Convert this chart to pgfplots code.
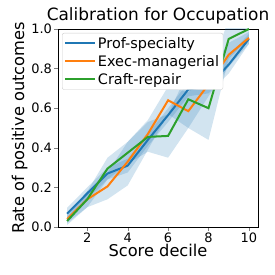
\documentclass[border=0pt]{standalone}
\usepackage{fontspec}
\setmainfont{DejaVu Sans}
\usepackage{pgfplots}
\pgfplotsset{compat=1.18}
\usepgfplotslibrary{fillbetween}
\definecolor{tblue}{HTML}{1F77B4}
\definecolor{torange}{HTML}{FF7F0E}
\definecolor{tgreen}{HTML}{2CA02C}
\begin{document}
\begin{tikzpicture}
\begin{axis}[
  scale only axis, width=200bp, height=198bp,
  xmin=0.55, xmax=10.45, ymin=0, ymax=1,
  xtick={2,4,6,8,10}, ytick={0,0.2,0.4,0.6,0.8,1.0},
  yticklabel style={/pgf/number format/fixed, /pgf/number format/fixed zerofill, /pgf/number format/precision=1, xshift=1bp},
  /pgf/number format/assume math mode=true,
  tick label style={font=\fontsize{13}{14}\selectfont},
  xticklabel style={yshift=1bp},
  tick align=outside, tick pos=left,
  major tick length=3.5bp,
  xlabel={Score decile}, ylabel={Rate of positive outcomes},
  label style={font=\fontsize{16.3}{17}\selectfont},
  title={Calibration for Occupation},
  title style={font=\fontsize{17}{18}\selectfont, yshift=-5bp},
  xlabel style={yshift=5bp}, ylabel style={yshift=-3bp},
  legend style={font=\fontsize{14.5}{16}\selectfont, draw=black!20, rounded corners=2bp, inner sep=2bp, row sep=1.5bp, at={(0.02,0.98)}, anchor=north west},
  legend cell align=left,
  legend image code/.code={\draw[#1] (0cm,0cm) -- (1.05cm,0cm);},
  clip=true,
]
% bands
\addplot[draw=none, name path=bu, forget plot] coordinates {(1,0.097)(2,0.20)(3,0.30)(4,0.345)(5,0.47)(6,0.60)(7,0.73)(8,0.745)(9,0.865)(10,0.975)};
\addplot[draw=none, name path=bl, forget plot] coordinates {(1,0.037)(2,0.14)(3,0.24)(4,0.275)(5,0.41)(6,0.53)(7,0.66)(8,0.675)(9,0.775)(10,0.925)};
\addplot[tblue, fill opacity=0.2, draw=none, forget plot] fill between[of=bu and bl];
\addplot[draw=none, name path=ou, forget plot] coordinates {(1,0.06)(2,0.18)(3,0.275)(4,0.43)(5,0.54)(6,0.71)(7,0.68)(8,0.78)(9,0.93)(10,0.985)};
\addplot[draw=none, name path=ol, forget plot] coordinates {(1,0.02)(2,0.10)(3,0.14)(4,0.21)(5,0.39)(6,0.57)(7,0.50)(8,0.66)(9,0.81)(10,0.925)};
\addplot[tblue, fill opacity=0.2, draw=none, forget plot] fill between[of=ou and ol];
\addplot[draw=none, name path=gu, forget plot] coordinates {(1,0.05)(2,0.18)(3,0.35)(4,0.43)(5,0.53)(6,0.57)(7,0.785)(8,0.76)(9,1.05)(10,1.05)};
\addplot[draw=none, name path=gl, forget plot] coordinates {(1,0.01)(2,0.10)(3,0.24)(4,0.32)(5,0.38)(6,0.35)(7,0.50)(8,0.44)(9,0.85)(10,0.95)};
\addplot[tblue, fill opacity=0.2, draw=none, forget plot] fill between[of=gu and gl];
% lines
\addplot[tblue, line width=2bp] coordinates {(1,0.067)(2,0.17)(3,0.27)(4,0.31)(5,0.44)(6,0.565)(7,0.695)(8,0.71)(9,0.82)(10,0.95)};
\addlegendentry{Prof-specialty}
\addplot[torange, line width=2bp] coordinates {(1,0.04)(2,0.14)(3,0.205)(4,0.33)(5,0.47)(6,0.64)(7,0.585)(8,0.72)(9,0.87)(10,0.955)};
\addlegendentry{Exec-managerial}
\addplot[tgreen, line width=2bp] coordinates {(1,0.03)(2,0.14)(3,0.295)(4,0.375)(5,0.455)(6,0.46)(7,0.645)(8,0.60)(9,0.95)(10,1.0)};
\addlegendentry{Craft-repair}
\end{axis}
\path ([xshift=-58bp,yshift=-48bp]current axis.south west) rectangle ([xshift=17bp,yshift=29bp]current axis.north east);
\end{tikzpicture}
\end{document}
